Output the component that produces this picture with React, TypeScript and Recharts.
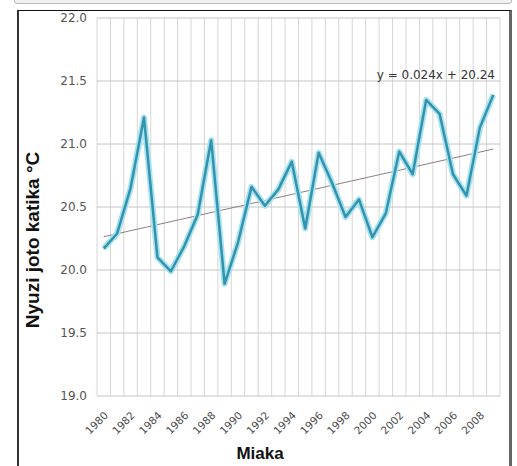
import React from 'react';
import { LineChart, Line, XAxis, YAxis, CartesianGrid, Label } from 'recharts';

const years = [
  '1980', '1981', '1982', '1983', '1984', '1985', '1986', '1987', '1988', '1989',
  '1990', '1991', '1992', '1993', '1994', '1995', '1996', '1997', '1998', '1999',
  '2000', '2001', '2002', '2003', '2004', '2005', '2006', '2007', '2008', '2009',
];

// mean temperature per year
const temps = [
  20.17, 20.29, 20.65, 21.21, 20.1, 19.99, 20.19, 20.44, 21.03, 19.89,
  20.22, 20.66, 20.51, 20.64, 20.86, 20.33, 20.93, 20.69, 20.42, 20.56,
  20.26, 20.45, 20.94, 20.76, 21.35, 21.24, 20.76, 20.59, 21.13, 21.39,
];

const yTicks = [19.0, 19.5, 20.0, 20.5, 21.0, 21.5, 22.0];

// trendline from the printed equation y = 0.024x + 20.24
const TREND_SLOPE = 0.024;
const TREND_INTERCEPT = 20.24;

const data = years.map((year, i) => ({
  year,
  temp: temps[i],
  trend:
    i === 0 || i === years.length - 1
      ? TREND_INTERCEPT + TREND_SLOPE * (i + 1)
      : null,
}));

const XTick = ({ x, y, payload }: any) => {
  const tx = x + 5;
  const ty = y + 12;
  return (
    <text
      x={tx}
      y={ty}
      transform={`rotate(-45, ${tx}, ${ty})`}
      textAnchor="end"
      fontSize={10.5}
      fontFamily="DejaVu Sans"
      fill="#4a4a4a"
    >
      {payload.value}
    </text>
  );
};

export default function App() {
  return (
    <div
      style={{
        position: 'absolute',
        left: 0,
        top: 0,
        width: 517,
        height: 466,
        background: '#fff',
        overflow: 'hidden',
      }}
    >
      <div
        style={{
          position: 'absolute',
          left: 14,
          top: -12,
          width: 496,
          height: 14,
          border: '1px solid #b8b8b8',
          borderRadius: 3,
          background: '#f2f2f2',
        }}
      />
      <div style={{ position: 'absolute', left: 0, top: 0 }}>
        <LineChart
          width={517}
          height={466}
          data={data}
          margin={{ top: 18, right: 17, bottom: 30, left: 0 }}
        >
          <CartesianGrid
            horizontal={false}
            stroke="#d6d6d6"
            verticalCoordinatesGenerator={({ offset }: any) =>
              Array.from(
                { length: years.length + 1 },
                (_, i) => offset.left + (i * offset.width) / years.length
              )
            }
          />
          <CartesianGrid vertical={false} stroke="#c4c4c4" />
          <XAxis
            dataKey="year"
            height={40}
            interval={1}
            padding={{ left: 6.7, right: 6.7 }}
            axisLine={false}
            tickLine={false}
            tick={<XTick />}
          >
            <Label
              content={() => (
                <text
                  x={260}
                  y={459}
                  textAnchor="middle"
                  fontSize={17}
                  fontWeight="bold"
                  fontFamily="Liberation Sans"
                  fill="#111"
                >
                  Miaka
                </text>
              )}
            />
          </XAxis>
          <YAxis
            width={97}
            domain={[19, 22]}
            ticks={yTicks}
            interval={0}
            tickFormatter={(v: number) => v.toFixed(1)}
            axisLine={false}
            tickLine={false}
            tickMargin={4}
            tick={{ fontSize: 12, fontFamily: 'DejaVu Sans', fill: '#555' }}
          >
            <Label
              content={() => (
                <text
                  x={32}
                  y={240}
                  transform="rotate(-90, 32, 240)"
                  textAnchor="middle"
                  dominantBaseline="central"
                  fontSize={19}
                  fontWeight="bold"
                  fontFamily="Liberation Sans"
                  fill="#111"
                >
                  Nyuzi joto katika °C
                </text>
              )}
            />
          </YAxis>
          <Line
            dataKey="trend"
            connectNulls
            stroke="#8c7f80"
            strokeWidth={1}
            dot={false}
            activeDot={false}
            isAnimationActive={false}
          />
          <Line
            dataKey="temp"
            stroke="#a6e3f0"
            strokeWidth={6}
            strokeLinejoin="round"
            dot={false}
            activeDot={false}
            isAnimationActive={false}
          />
          <Line
            dataKey="temp"
            stroke="#3592ad"
            strokeWidth={2.5}
            strokeLinejoin="round"
            dot={false}
            activeDot={false}
            isAnimationActive={false}
          />
        </LineChart>
      </div>
      <div
        style={{
          position: 'absolute',
          right: 22,
          top: 68,
          fontFamily: 'DejaVu Sans',
          fontSize: 12,
          color: '#333',
          whiteSpace: 'nowrap',
        }}
      >
        y = 0.024x + 20.24
      </div>
      <div
        style={{
          position: 'absolute',
          left: 17,
          top: 10,
          width: 490,
          height: 470,
          borderTop: '1.5px solid #111',
          borderLeft: '2px solid #333',
          borderRight: '3px solid #666',
          pointerEvents: 'none',
        }}
      />
    </div>
  );
}
